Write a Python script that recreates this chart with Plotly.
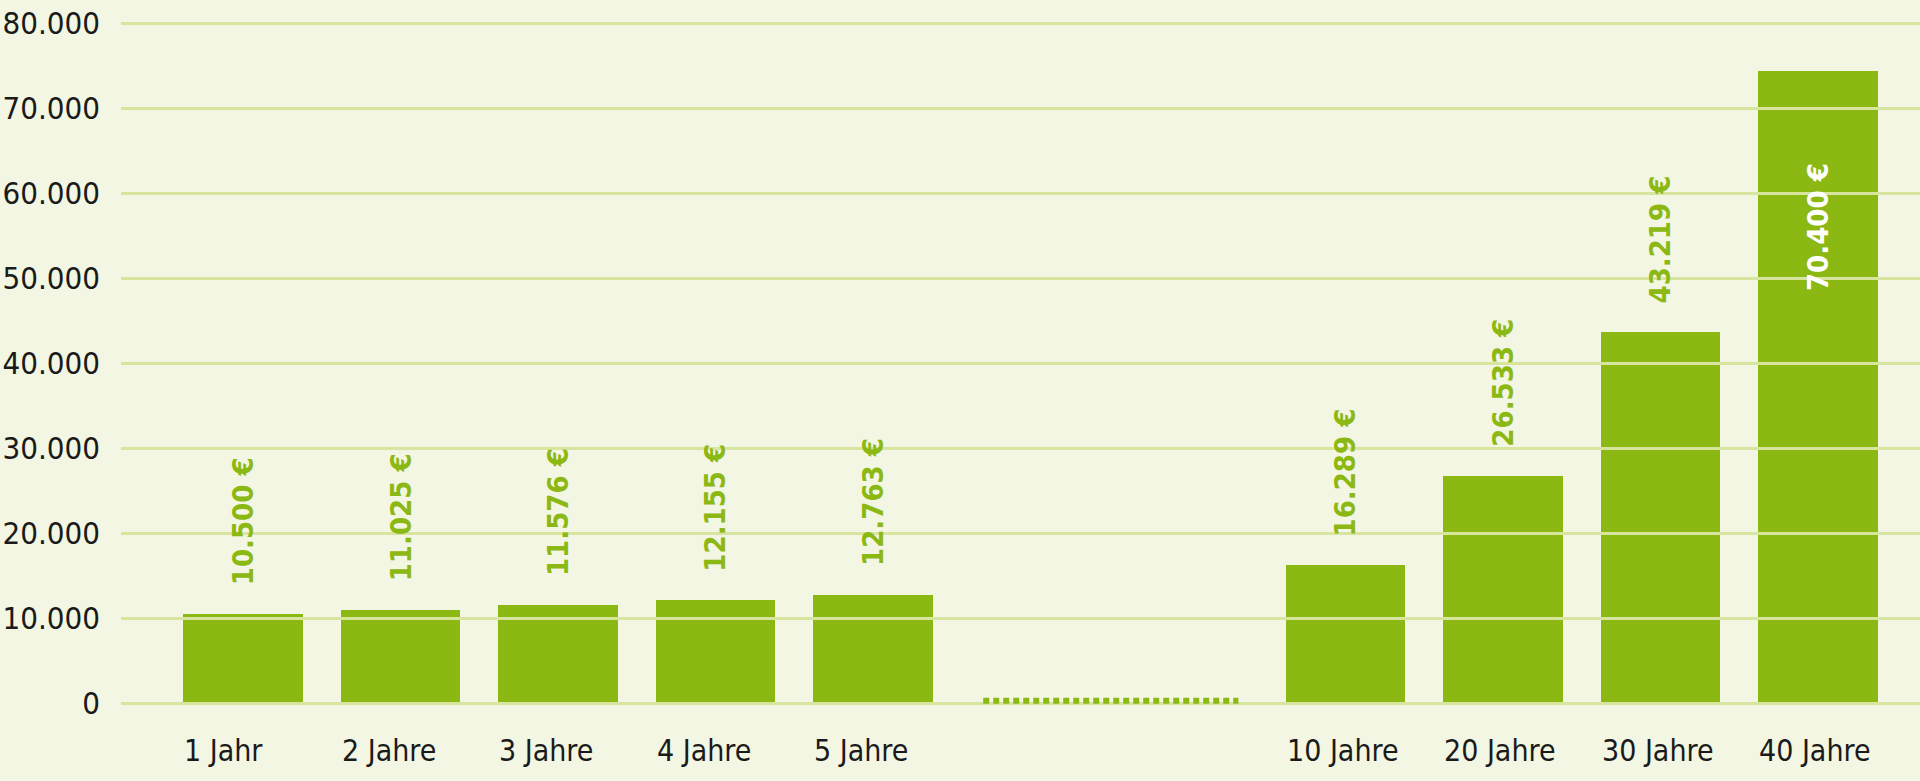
import plotly.graph_objects as go

# ---- data ----
years = ["1 Jahr", "2 Jahre", "3 Jahre", "4 Jahre", "5 Jahre",
         "10 Jahre", "20 Jahre", "30 Jahre", "40 Jahre"]
bar_values = [10500, 11025, 11576, 12155, 12763, 16289, 26800, 43700, 74400]
value_labels = ["10.500 €", "11.025 €", "11.576 €", "12.155 €", "12.763 €",
                "16.289 €", "26.533 €", "43.219 €", "70.400 €"]
y_ticks = [0, 10000, 20000, 30000, 40000, 50000, 60000, 70000, 80000]
y_tick_labels = ["0", "10.000", "20.000", "30.000", "40.000",
                 "50.000", "60.000", "70.000", "80.000"]

# ---- style ----
BG = "#f2f6e3"
GREEN = "#8cb814"
GRID = "#d8e59f"
TEXT = "#1a1a1a"
FONT = "DejaVu Sans Condensed"
BAR_W = 0.757
GAP = 2  # empty slots between "5 Jahre" and "10 Jahre"

pos = [i if i < 5 else i + GAP for i in range(len(years))]

fig = go.Figure()
fig.add_trace(go.Bar(x=pos, y=bar_values, width=BAR_W,
                     marker=dict(color=GREEN, line=dict(width=0)),
                     hoverinfo="skip", showlegend=False))

# gridlines drawn on top of bars
for v in y_ticks:
    fig.add_shape(type="line", xref="paper", x0=0, x1=1, yref="y", y0=v, y1=v,
                  line=dict(color=GRID, width=3), layer="above")

# dotted break line in the gap
gap_mid = (pos[4] + pos[5]) / 2
fig.add_shape(type="line", xref="x", x0=gap_mid - 0.8, x1=gap_mid + 0.82,
              yref="y", y0=330, y1=330,
              line=dict(color=GREEN, width=6, dash="6px,4px"), layer="above")

vmax = max(bar_values)
for p, v, lab in zip(pos, bar_values, value_labels):
    inside = (v == vmax)
    fig.add_annotation(x=p, y=v, xref="x", yref="y", text=lab, textangle=-90,
                       showarrow=False,
                       yanchor="top" if inside else "bottom",
                       yshift=-90 if inside else 27,
                       font=dict(family=FONT, size=29,
                                 color="white" if inside else GREEN,
                                 weight="bold"))

for p, name in zip(pos, years):
    fig.add_annotation(x=p - BAR_W / 2, y=0, xref="x", yref="paper", text=name,
                       showarrow=False, xanchor="left", yanchor="middle",
                       xshift=-1, yshift=-40,
                       font=dict(family=FONT, size=30, color=TEXT))

fig.update_layout(
    width=1920, height=781,
    margin=dict(l=121, r=0, t=15, b=71),
    paper_bgcolor=BG, plot_bgcolor=BG,
    bargap=0,
    xaxis=dict(range=[-0.7746, 10.648], showgrid=False, zeroline=False,
               showticklabels=False, ticks=""),
    yaxis=dict(range=[-765, 81000], showgrid=False, zeroline=False,
               tickvals=y_ticks, ticktext=y_tick_labels, ticks="",
               ticklabelstandoff=20,
               tickfont=dict(family=FONT, size=31, color=TEXT)),
    showlegend=False,
)

fig.write_html("out.html",
               config={"displayModeBar": False},
               post_script="document.body.style.margin='0';"
                           "document.body.style.overflow='hidden';")
